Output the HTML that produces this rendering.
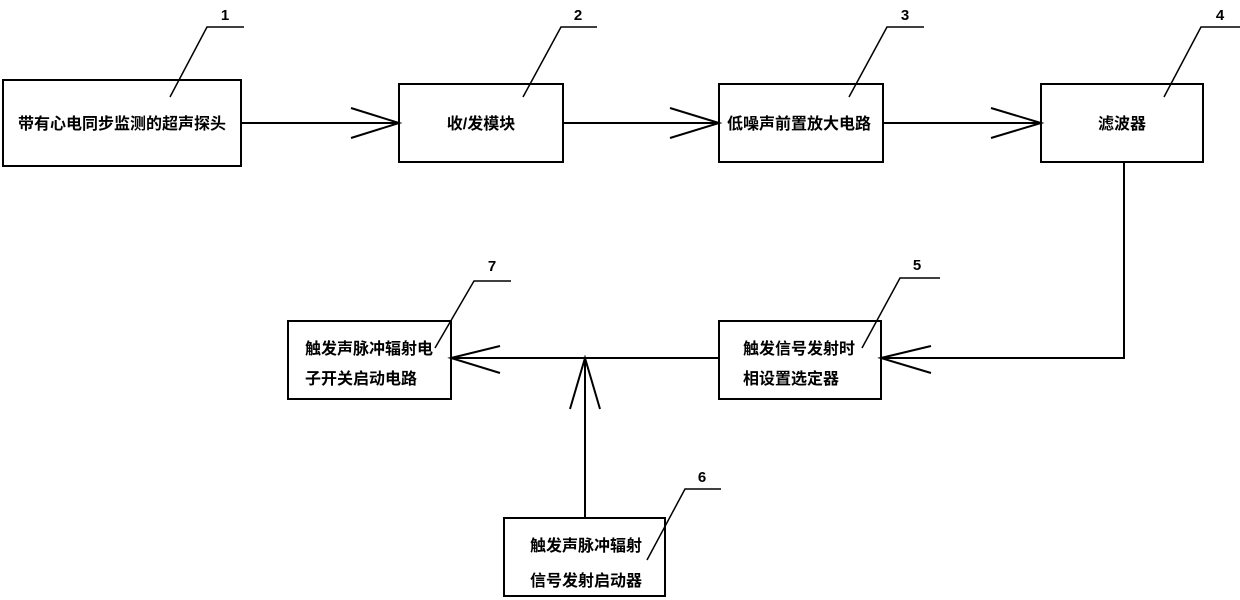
<!DOCTYPE html>
<html><head><meta charset="utf-8"><style>
html,body{margin:0;padding:0;background:#fff;}
svg{display:block}
text{font-family:"Liberation Sans","Noto Sans CJK SC",sans-serif;font-weight:bold;fill:#000;}
.t{font-size:16px;}
.n{font-size:15px;}
</style></head><body>
<svg width="1240" height="600" viewBox="0 0 1240 600" xmlns="http://www.w3.org/2000/svg">
<g fill="none" stroke="#000" stroke-width="2">
<rect x="3" y="80" width="238" height="86"/>
<rect x="399" y="84" width="164" height="78"/>
<rect x="719" y="84" width="164" height="78"/>
<rect x="1041" y="84" width="162" height="78"/>
<rect x="288" y="321" width="163" height="78"/>
<rect x="719" y="321" width="162" height="78"/>
<rect x="504" y="518" width="161" height="78"/>
<!-- connectors -->
<path d="M241 123 H399 M351 108 L399 123 L351 138"/>
<path d="M563 123 H719 M670 108 L719 123 L670 138"/>
<path d="M883 123 H1041 M991 108 L1041 123 L991 138"/>
<path d="M1124 162 V358 H881 M931 346 L881 358 L931 373"/>
<path d="M719 358 H451 M500 346 L451 358 L500 373"/>
<path d="M585 518 V358 M570 409 L585 358 L600 409"/>
<!-- leaders -->
<path d="M244 27 H207 L170 97" stroke-width="1.5"/>
<path d="M597 27 H561 L523 97" stroke-width="1.5"/>
<path d="M924 27 H887 L849 97" stroke-width="1.5"/>
<path d="M1240 27 H1201 L1164 97" stroke-width="1.5"/>
<path d="M511 281 H474 L435 348" stroke-width="1.5"/>
<path d="M940 278 H900 L862 348" stroke-width="1.5"/>
<path d="M721 489 H685 L647 560" stroke-width="1.5"/>
</g>
<text class="n" x="225" y="20" text-anchor="middle">1</text>
<text class="n" x="578" y="20" text-anchor="middle">2</text>
<text class="n" x="905" y="20" text-anchor="middle">3</text>
<text class="n" x="1220" y="20" text-anchor="middle">4</text>
<text class="n" x="917" y="270" text-anchor="middle">5</text>
<text class="n" x="702" y="482" text-anchor="middle">6</text>
<text class="n" x="492" y="271" text-anchor="middle">7</text>
<text class="t" x="122" y="129" text-anchor="middle">带有心电同步监测的超声探头</text>
<text class="t" x="481" y="129" text-anchor="middle">收/发模块</text>
<text class="t" x="799" y="129" text-anchor="middle">低噪声前置放大电路</text>
<text class="t" x="1122" y="129" text-anchor="middle">滤波器</text>
<text class="t" x="305" y="354">触发声脉冲辐射电</text>
<text class="t" x="305" y="384">子开关启动电路</text>
<text class="t" x="743" y="354">触发信号发射时</text>
<text class="t" x="743" y="384">相设置选定器</text>
<text class="t" x="530" y="551">触发声脉冲辐射</text>
<text class="t" x="530" y="586">信号发射启动器</text>
</svg>
</body></html>
